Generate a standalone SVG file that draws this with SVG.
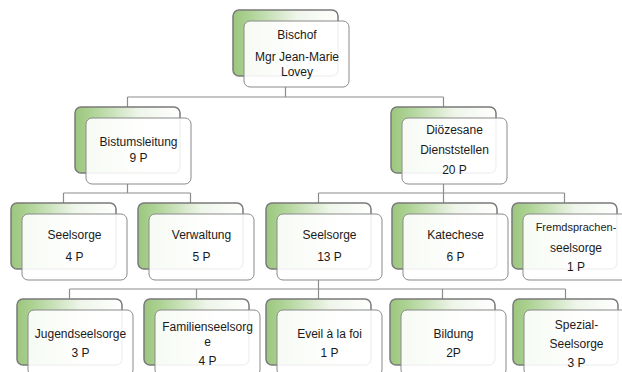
<svg xmlns="http://www.w3.org/2000/svg" width="622" height="372" viewBox="0 0 622 372">
  <defs>
    <linearGradient id="green" x1="0" y1="0" x2="1" y2="0">
      <stop offset="0" stop-color="#9cc67e"/>
      <stop offset="0.15" stop-color="#acd293"/>
      <stop offset="0.6" stop-color="#eef5e9"/>
      <stop offset="1" stop-color="#ffffff"/>
    </linearGradient>
  </defs>
  <style>
    .back { fill: url(#green); stroke: #7a7a7a; stroke-width: 1.5; }
    .front { fill: #ffffff; fill-opacity: 0.9; stroke: #8a8a8a; stroke-width: 1; }
    .conn { fill: none; stroke: #8c8c8c; stroke-width: 1.2; }
    text { font-family: "Liberation Sans", Arial, sans-serif; font-size: 12px; fill: #1a1a1a; text-anchor: middle; }
  </style>
  <rect width="622" height="372" fill="#ffffff"/>

  <g id="connectors">
    <path class="conn" d="M285.5,87 V97 M127.5,97 H443.5 M127.5,97 V107 M443.5,97 V107"/>
    <path class="conn" d="M127.5,184 V193 M63.5,193 H190.5 M63.5,193 V203 M190.5,193 V203"/>
    <path class="conn" d="M443.5,184 V193 M318.5,193 H564.5 M318.5,193 V203 M443.5,193 V203 M564.5,193 V203"/>
    <path class="conn" d="M318.5,280 V289 M69.5,289 H565.5 M69.5,289 V299 M196.5,289 V299 M318.5,289 V299 M442.5,289 V299 M565.5,289 V299"/>
  </g>

  <g id="bischof">
    <rect class="back" x="233" y="10" width="105" height="66" rx="6"/>
    <rect class="front" x="244" y="21" width="105" height="66" rx="6"/>
    <text x="297" y="39">Bischof</text>
    <text x="297" y="61">Mgr Jean-Marie</text>
    <text x="297" y="76">Lovey</text>
  </g>

  <g id="bistumsleitung">
    <rect class="back" x="75" y="107" width="105" height="66" rx="6"/>
    <rect class="front" x="86" y="118" width="105" height="66" rx="6"/>
    <text x="138.5" y="146">Bistumsleitung</text>
    <text x="138.5" y="162">9 P</text>
  </g>

  <g id="dioezesane">
    <rect class="back" x="391" y="107" width="105" height="66" rx="6"/>
    <rect class="front" x="402" y="118" width="105" height="66" rx="6"/>
    <text x="454.5" y="134">Diözesane</text>
    <text x="454.5" y="154">Dienststellen</text>
    <text x="454.5" y="174">20 P</text>
  </g>

  <g id="seelsorge-bl">
    <rect class="back" x="11" y="203" width="105" height="66" rx="6"/>
    <rect class="front" x="22" y="214" width="105" height="66" rx="6"/>
    <text x="74.5" y="239">Seelsorge</text>
    <text x="74.5" y="261">4 P</text>
  </g>

  <g id="verwaltung">
    <rect class="back" x="138" y="203" width="105" height="66" rx="6"/>
    <rect class="front" x="149" y="214" width="105" height="66" rx="6"/>
    <text x="201.5" y="239">Verwaltung</text>
    <text x="201.5" y="261">5 P</text>
  </g>

  <g id="seelsorge-dd">
    <rect class="back" x="266" y="203" width="105" height="66" rx="6"/>
    <rect class="front" x="277" y="214" width="105" height="66" rx="6"/>
    <text x="329.5" y="239">Seelsorge</text>
    <text x="329.5" y="261">13 P</text>
  </g>

  <g id="katechese">
    <rect class="back" x="392" y="203" width="105" height="66" rx="6"/>
    <rect class="front" x="403" y="214" width="105" height="66" rx="6"/>
    <text x="455.5" y="239">Katechese</text>
    <text x="455.5" y="261">6 P</text>
  </g>

  <g id="fremdsprachen">
    <rect class="back" x="512" y="203" width="105" height="66" rx="6"/>
    <rect class="front" x="523" y="214" width="105" height="66" rx="6"/>
    <text x="576" y="231" style="font-size:11px">Fremdsprachen-</text>
    <text x="576" y="252">seelsorge</text>
    <text x="576" y="271">1 P</text>
  </g>

  <g id="jugendseelsorge">
    <rect class="back" x="17" y="299" width="105" height="66" rx="6"/>
    <rect class="front" x="28" y="310" width="105" height="66" rx="6"/>
    <text x="80.5" y="338">Jugendseelsorge</text>
    <text x="80.5" y="357">3 P</text>
  </g>

  <g id="familienseelsorge">
    <rect class="back" x="144" y="299" width="105" height="66" rx="6"/>
    <rect class="front" x="155" y="310" width="105" height="66" rx="6"/>
    <text x="207.5" y="331">Familienseelsorg</text>
    <text x="207.5" y="346">e</text>
    <text x="207.5" y="365">4 P</text>
  </g>

  <g id="eveil">
    <rect class="back" x="266" y="299" width="105" height="66" rx="6"/>
    <rect class="front" x="277" y="310" width="105" height="66" rx="6"/>
    <text x="329.5" y="338">Eveil à la foi</text>
    <text x="329.5" y="357">1 P</text>
  </g>

  <g id="bildung">
    <rect class="back" x="390" y="299" width="105" height="66" rx="6"/>
    <rect class="front" x="401" y="310" width="105" height="66" rx="6"/>
    <text x="453.5" y="338">Bildung</text>
    <text x="453.5" y="357">2P</text>
  </g>

  <g id="spezialseelsorge">
    <rect class="back" x="513" y="299" width="105" height="66" rx="6"/>
    <rect class="front" x="524" y="310" width="105" height="66" rx="6"/>
    <text x="576.5" y="329">Spezial-</text>
    <text x="576.5" y="348">Seelsorge</text>
    <text x="576.5" y="367">3 P</text>
  </g>
</svg>
